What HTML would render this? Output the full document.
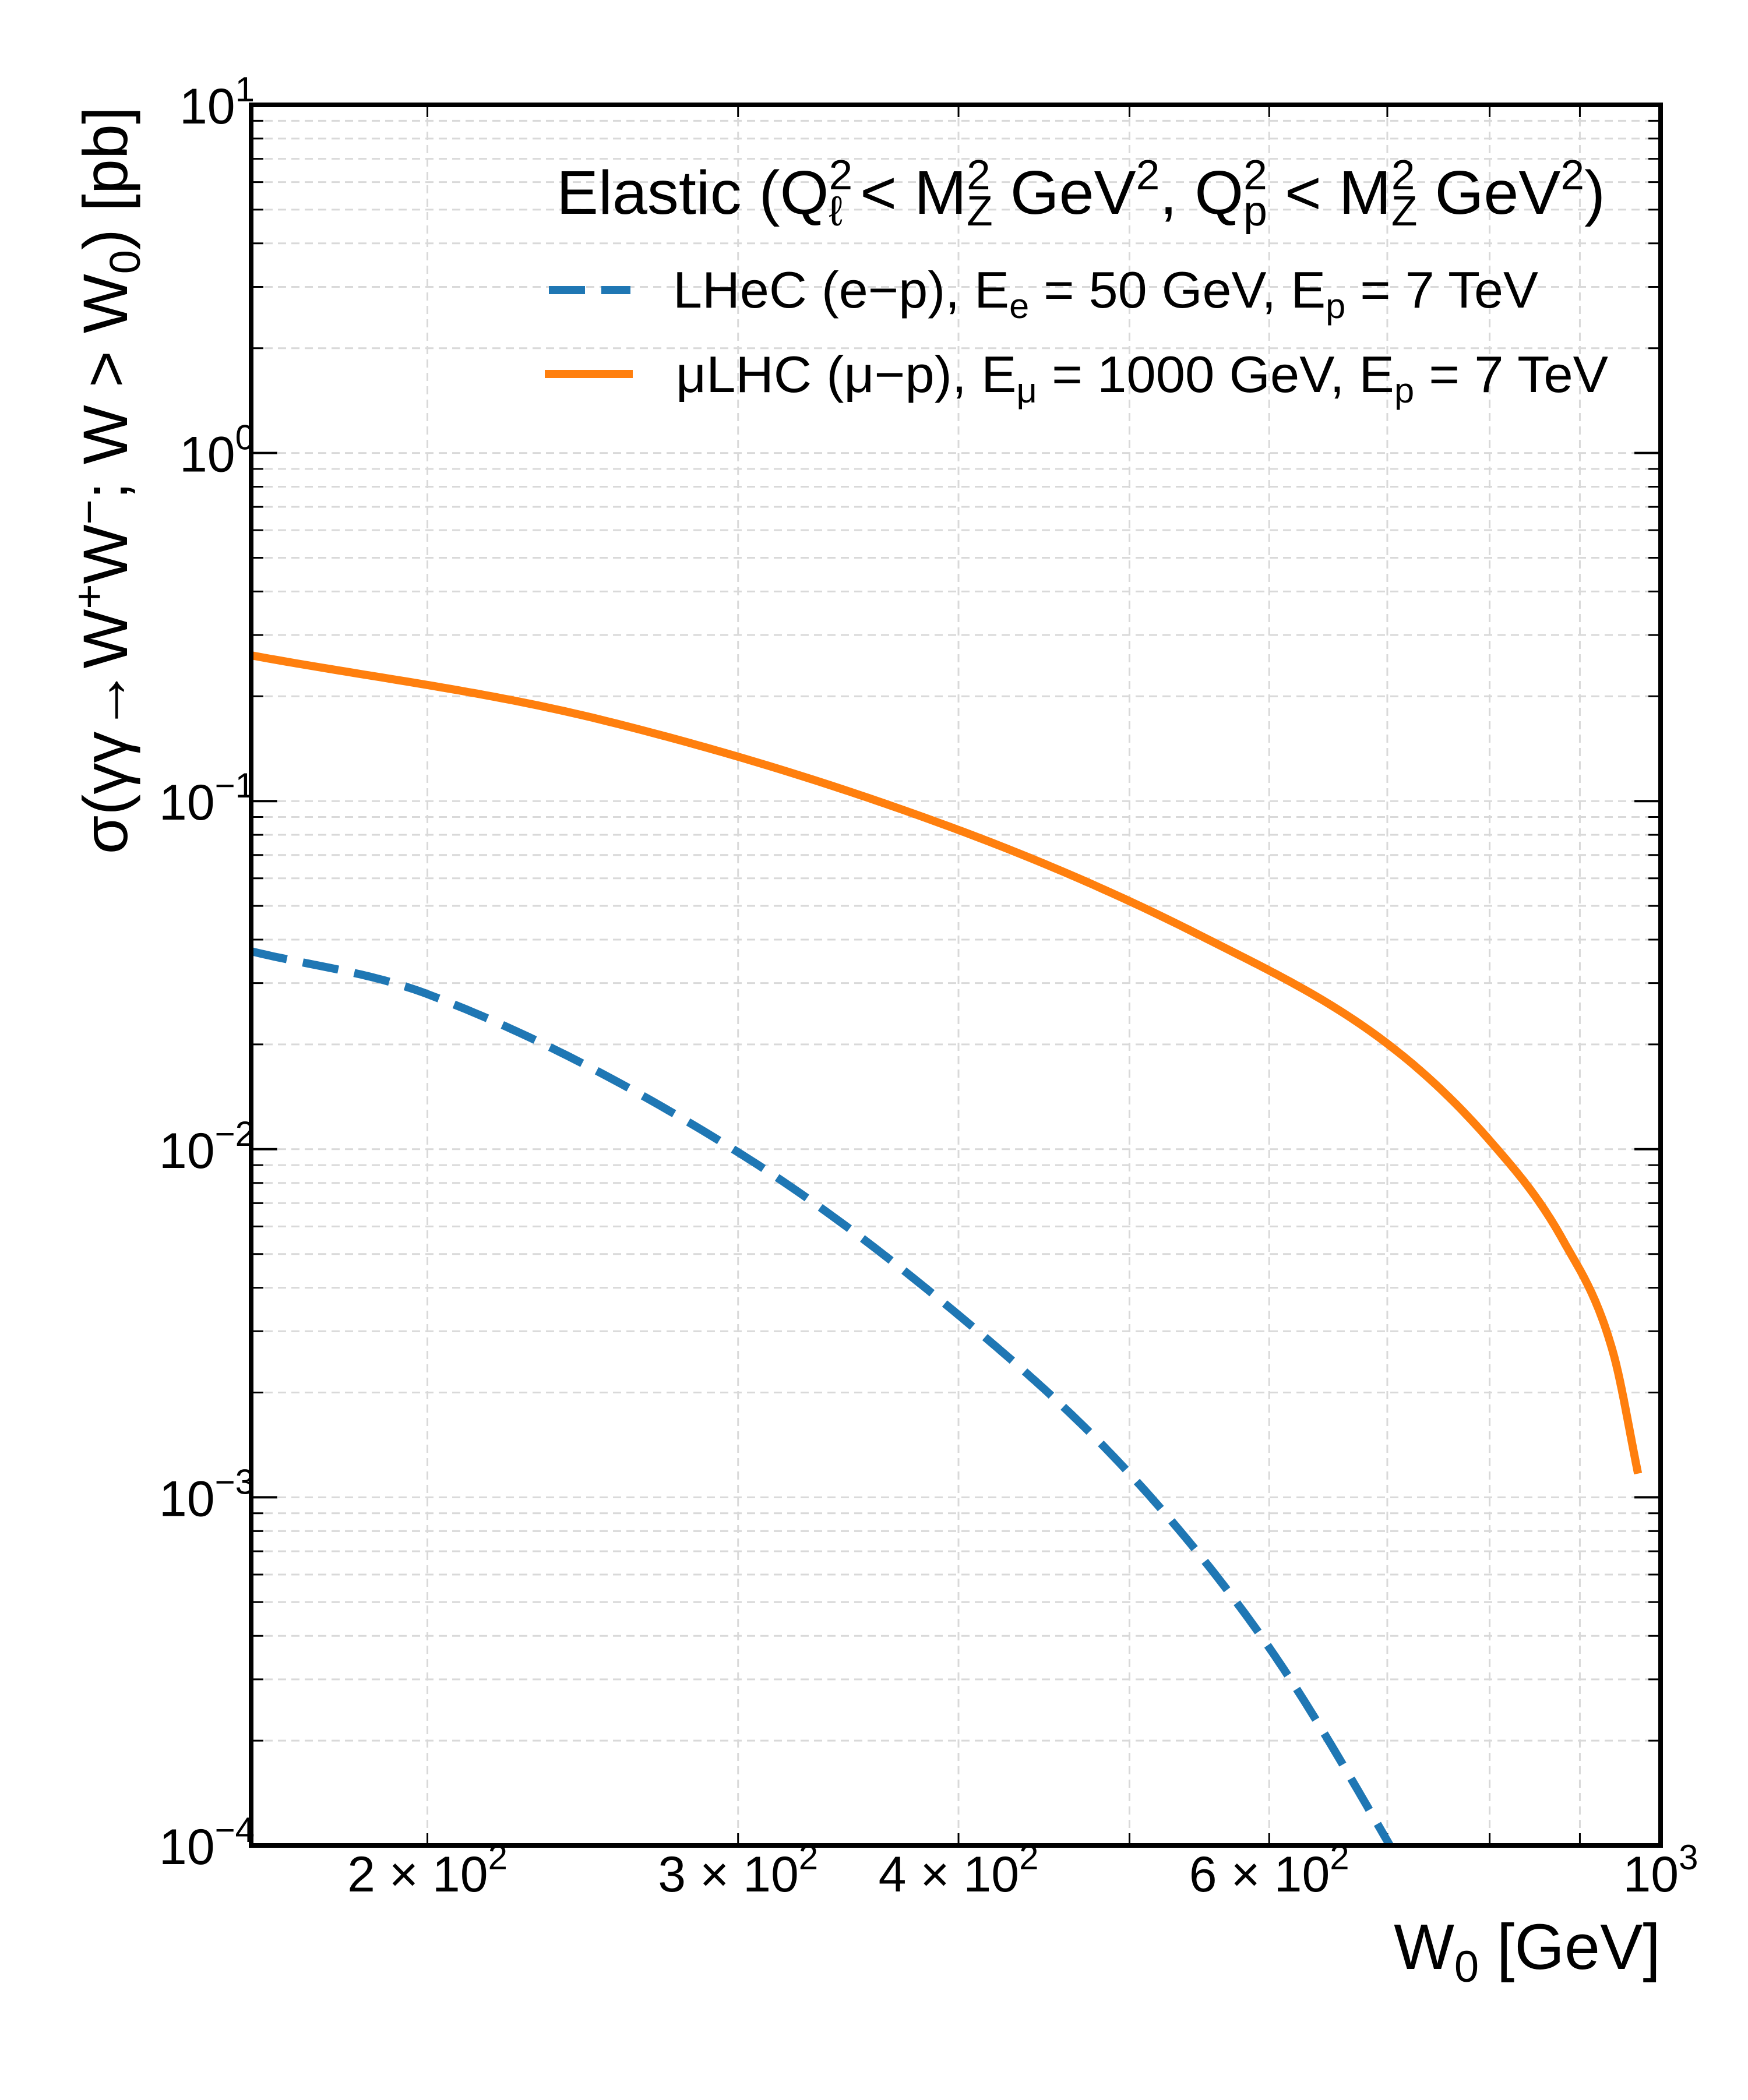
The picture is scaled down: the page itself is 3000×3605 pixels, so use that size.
<!DOCTYPE html>
<html><head><meta charset="utf-8"><style>
html,body{margin:0;padding:0;background:#fff}
svg text{font-family:"Liberation Sans",sans-serif;fill:#000}
</style></head><body>
<svg id="chart" xmlns="http://www.w3.org/2000/svg" width="3000" height="3600" viewBox="0 0 3000 3600">
<rect x="0" y="0" width="3000" height="3600" fill="#fff"/>
<g id="grid"></g>
<g id="ticks"></g>
<defs><clipPath id="plotclip"><rect x="431" y="180" width="2419" height="2988"/></clipPath></defs>
<g id="series" clip-path="url(#plotclip)"></g>
<rect x="431" y="180" width="2419" height="2988" fill="none" stroke="#000" stroke-width="8"/>
<g id="labels"></g>
<text x="2850" y="3380" font-size="110" text-anchor="end">W<tspan font-size="76" dy="22">0</tspan><tspan dy="-22"> [GeV]</tspan></text>
<text transform="translate(218,183) rotate(-90)" font-size="108" text-anchor="end">σ(γγ→W<tspan font-size="74" dy="-40">+</tspan><tspan dy="40">W</tspan><tspan font-size="74" dy="-40">−</tspan><tspan dy="40">; W &gt; W</tspan><tspan font-size="74" dy="22">0</tspan><tspan dy="-22">)  [pb]</tspan></text>
<g>
<text x="955" y="367" font-size="106" textLength="1800" lengthAdjust="spacingAndGlyphs">Elastic (Q<tspan font-size="72" dy="-42">2</tspan><tspan font-size="72" dx="-40" dy="62">ℓ</tspan><tspan dy="-20"> &lt; M</tspan><tspan font-size="72" dy="-42">2</tspan><tspan font-size="72" dx="-40" dy="62">Z</tspan><tspan dy="-20"> GeV</tspan><tspan font-size="72" dy="-42">2</tspan><tspan dy="42">, Q</tspan><tspan font-size="72" dy="-42">2</tspan><tspan font-size="72" dx="-40" dy="62">p</tspan><tspan dy="-20"> &lt; M</tspan><tspan font-size="72" dy="-42">2</tspan><tspan font-size="72" dx="-40" dy="62">Z</tspan><tspan dy="-20"> GeV</tspan><tspan font-size="72" dy="-42">2</tspan><tspan dy="42">)</tspan></text>
<line x1="942" y1="498" x2="1082" y2="498" stroke="#1f77b4" stroke-width="14" stroke-dasharray="62,28"/>
<text x="1155" y="528" font-size="88" textLength="1485" lengthAdjust="spacingAndGlyphs">LHeC (e−p), E<tspan font-size="60" dy="18">e</tspan><tspan dy="-18"> = 50 GeV, E</tspan><tspan font-size="60" dy="18">p</tspan><tspan dy="-18"> = 7 TeV</tspan></text>
<line x1="935" y1="642" x2="1086" y2="642" stroke="#ff7f0e" stroke-width="14"/>
<text x="1160" y="673" font-size="88" textLength="1600" lengthAdjust="spacingAndGlyphs">μLHC (μ−p), E<tspan font-size="60" dy="18">μ</tspan><tspan dy="-18"> = 1000 GeV, E</tspan><tspan font-size="60" dy="18">p</tspan><tspan dy="-18"> = 7 TeV</tspan></text>
</g>
</svg>
<script>
const lhecW = [159, 200, 300, 400, 500, 600, 700, 730];
const lhecSigma = [0.037, 0.0279, 0.0098, 0.00334, 0.00117, 0.00037, 0.000103, 0.00007];
const mulhcW = [159, 250, 400, 550, 700, 800, 880, 940, 971];
const mulhcSigma = [0.262, 0.172, 0.0826, 0.0408, 0.0201, 0.0106, 0.0055, 0.0026, 0.00117];
const yMajorTicks = [1e1, 1e0, 1e-1, 1e-2, 1e-3, 1e-4];
const yTickExp = ["1", "0", "−1", "−2", "−3", "−4"];
const xTickValues = [200, 300, 400, 600, 1000];
const xTickMant = ["2", "3", "4", "6", ""];

const NS = "http://www.w3.org/2000/svg";
const L = 431, R = 2850, T = 180, B = 3168;
const XMIN = 158.9, XMAX = 1000, YMIN = 1e-4, YMAX = 10;
function sx(v){ return L + (Math.log10(v) - Math.log10(XMIN)) / (Math.log10(XMAX) - Math.log10(XMIN)) * (R - L); }
function sy(v){ return B - (Math.log10(v) - Math.log10(YMIN)) / (Math.log10(YMAX) - Math.log10(YMIN)) * (B - T); }
function mk(tag, attrs, parent){ const e = document.createElementNS(NS, tag); for (const k in attrs) e.setAttribute(k, attrs[k]); parent.appendChild(e); return e; }

const grid = document.getElementById('grid'), ticks = document.getElementById('ticks'), labels = document.getElementById('labels'), series = document.getElementById('series');

for (let e = -4; e <= 1; e++) {
  for (let m = 1; m <= 9; m++) {
    const v = m * Math.pow(10, e);
    if (v > YMAX * 1.0001) break;
    const y = sy(v);
    const g = mk('line', {x1: L, x2: R, y1: y, y2: y, stroke: '#d9d9d9', 'stroke-width': 3, 'stroke-dasharray': '14,9'}, grid);
    
    
    const len = m === 1 ? 45 : 21;
    const t1 = mk('line', {x1: L, x2: L + len, y1: y, y2: y, stroke: '#000', 'stroke-width': m === 1 ? 4 : 3}, ticks);
    
    
    const t2 = mk('line', {x1: R - len, x2: R, y1: y, y2: y, stroke: '#000', 'stroke-width': m === 1 ? 4 : 3}, ticks);
    
    
  }
}
for (let m = 2; m <= 9; m++) {
  const x = sx(m * 100);
  const g = mk('line', {x1: x, x2: x, y1: T, y2: B, stroke: '#d9d9d9', 'stroke-width': 3, 'stroke-dasharray': '14,9'}, grid);
  
  
  const t1 = mk('line', {x1: x, x2: x, y1: B - 21, y2: B, stroke: '#000', 'stroke-width': 3}, ticks);
  
  
  const t2 = mk('line', {x1: x, x2: x, y1: T, y2: T + 21, stroke: '#000', 'stroke-width': 3}, ticks);
  
  
}
yMajorTicks.forEach((v, i) => {
  const t = mk('text', {x: 437, y: sy(v) + 32, 'font-size': 86, 'text-anchor': 'end'}, labels);
  
  
  t.innerHTML = '10<tspan font-size="60" dy="-38">' + yTickExp[i] + '</tspan>';
});
xTickValues.forEach((v, i) => {
  const t = mk('text', {x: sx(v), y: 3247, 'font-size': 86, 'text-anchor': 'middle'}, labels);
  
  
  const exp = v >= 1000 ? '3' : '2';
  t.innerHTML = (xTickMant[i] ? xTickMant[i] + ' × ' : '') + '10<tspan font-size="60" dy="-38">' + exp + '</tspan>';
});

// monotone cubic (Fritsch-Carlson) interpolation in log-log space, rendering only
function monoPath(xs, ys){
  const X = xs.map(v => Math.log10(v)), Y = ys.map(v => Math.log10(v));
  const n = X.length, dk = [], m = [];
  for (let i = 0; i < n - 1; i++) dk.push((Y[i + 1] - Y[i]) / (X[i + 1] - X[i]));
  m[0] = dk[0]; m[n - 1] = dk[n - 2];
  for (let i = 1; i < n - 1; i++) m[i] = (dk[i - 1] * dk[i] <= 0) ? 0 : (dk[i - 1] + dk[i]) / 2;
  for (let i = 0; i < n - 1; i++) {
    const a = m[i] / dk[i], b = m[i + 1] / dk[i], s = a * a + b * b;
    if (s > 9) { const t = 3 / Math.sqrt(s); m[i] = t * a * dk[i]; m[i + 1] = t * b * dk[i]; }
  }
  const pts = [];
  for (let i = 0; i < n - 1; i++) {
    const h = X[i + 1] - X[i], steps = 40;
    for (let k = (i ? 1 : 0); k <= steps; k++) {
      const t = k / steps, t2 = t * t, t3 = t2 * t;
      const yy = (2 * t3 - 3 * t2 + 1) * Y[i] + (t3 - 2 * t2 + t) * h * m[i] + (-2 * t3 + 3 * t2) * Y[i + 1] + (t3 - t2) * h * m[i + 1];
      pts.push([sx(Math.pow(10, X[i] + h * t)), sy(Math.pow(10, yy))]);
    }
  }
  return 'M' + pts.map(p => p[0].toFixed(1) + ',' + p[1].toFixed(1)).join(' L');
}
const blue = mk('path', {d: monoPath(lhecW, lhecSigma), fill: 'none', stroke: '#1f77b4', 'stroke-width': 14, 'stroke-dasharray': '62,28'}, series);


const orange = mk('path', {d: monoPath(mulhcW, mulhcSigma), fill: 'none', stroke: '#ff7f0e', 'stroke-width': 14, 'stroke-linejoin': 'round'}, series);


</script>
</body></html>
